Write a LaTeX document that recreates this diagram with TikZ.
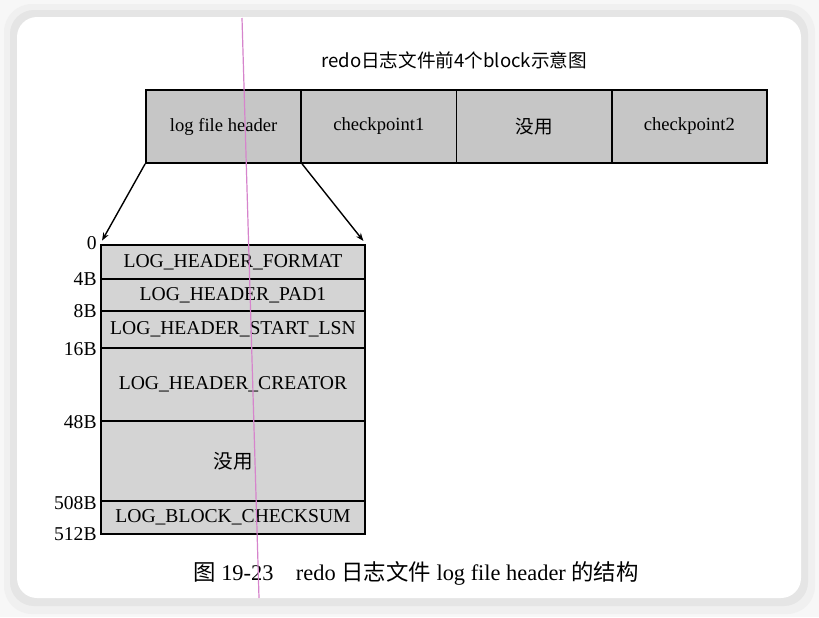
\documentclass[tikz,border=0pt]{standalone}
\usepackage{fontspec}
\setmainfont{Liberation Serif}
\newfontfamily\cjk{Noto Sans CJK SC}
\usetikzlibrary{arrows.meta}
\definecolor{blockgray}{RGB}{198,198,198}
\definecolor{fieldgray}{RGB}{212,212,212}
\definecolor{scanpink}{RGB}{214,132,204}
\tikzset{
  blk/.style={draw, line width=0.9pt, fill=blockgray, minimum width=77.6pt,
    minimum height=36.5pt, inner sep=0pt, font=\fontsize{9.3}{11}\selectfont},
  fld/.style={draw, line width=0.9pt, fill=fieldgray, minimum width=132pt,
    inner sep=0pt, font=\fontsize{9.8}{11}\selectfont},
  offs/.style={anchor=east, inner sep=0pt, font=\fontsize{9.8}{11}\selectfont},
  ptr/.style={-{Stealth[length=4pt,width=3pt]}, line width=0.7pt, shorten >=2pt},
}
\begin{document}
\begin{tikzpicture}[x=0.5pt, y=-0.5pt]
    \fill[black!3] (0,0) rectangle (819,617);
    \fill[black!6, rounded corners=14pt] (4,4) rectangle (815,614);
    \fill[black!10, rounded corners=12pt] (10,10) rectangle (808,606);
    \fill[white, rounded corners=10pt] (17,17) rectangle (801,598);

    \node[font=\cjk\fontsize{9.3}{10}\selectfont] (title) at (454,60)
      {redo日志文件前4个block示意图};

    \foreach \i/\n/\t in {0/hdr/log file header, 1/cpa/checkpoint1,
        2/unused/{\cjk 没用}, 3/cpb/checkpoint2} {
      \node[blk] (\n) at ({223.6+\i*155.25}, 126.5) {\t};
    }

    \foreach \n/\a/\b/\t in {f1/245/279/LOG\_HEADER\_FORMAT,
        f2/279/311/LOG\_HEADER\_PAD1, f3/311/348/LOG\_HEADER\_START\_LSN,
        f4/348/421/LOG\_HEADER\_CREATOR, f5/421/501/{\cjk 没用},
        f6/501/534/LOG\_BLOCK\_CHECKSUM} {
      \node[fld, minimum height={(\b-\a)*0.5pt}] (\n) at (233, {(\a+\b)/2}) {\t};
    }

    \foreach \v/\y [count=\k] in {0/243, 4B/279, 8B/311, 16B/349, 48B/422,
        508B/503, 512B/534} {
      \node[offs] (off\k) at (97,\y) {\v};
    }

    \draw[ptr] (hdr.south west) -- (f1.north west);
    \draw[ptr] (hdr.south east) -- (f1.north east);

    \node[font=\fontsize{11.2}{13}\selectfont] (cap) at (416,573)
      {{\cjk 图} 19-23\quad redo {\cjk 日志文件} log file header {\cjk 的结构}};

    \draw[scanpink, line width=0.6pt] (242,18) -- (259,598);
\end{tikzpicture}
\end{document}
